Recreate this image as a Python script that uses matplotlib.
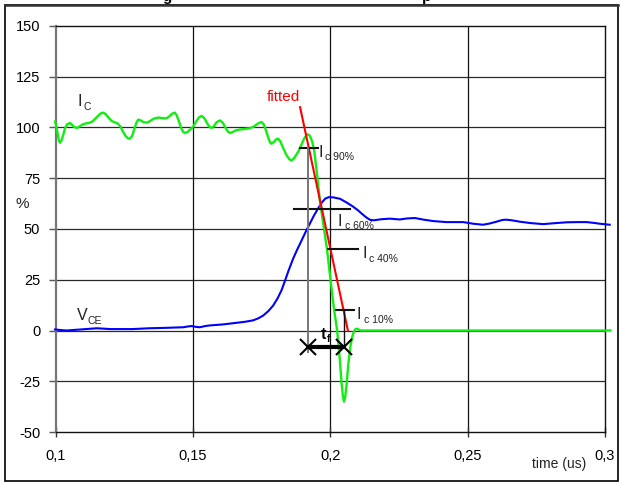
import matplotlib
matplotlib.use("Agg")
import matplotlib.pyplot as plt
from matplotlib.patches import Rectangle
from matplotlib.lines import Line2D

plt.rcParams['font.family'] = ['Liberation Sans', 'DejaVu Sans']
plt.rcParams['axes.unicode_minus'] = False

# Collector current I_C (%) versus time (us)
t_ic = [0.0998, 0.1003, 0.1008, 0.1012, 0.1016, 0.1021, 0.1027, 0.1034, 0.1042, 0.1052,
        0.1060, 0.1068, 0.1079, 0.1090, 0.1100, 0.1110, 0.1122, 0.1132, 0.1142, 0.1155,
        0.1165, 0.1174, 0.1183, 0.1193, 0.1204, 0.1215, 0.1226, 0.1236, 0.1245, 0.1255,
        0.1264, 0.1271, 0.1279, 0.1287, 0.1295, 0.1301, 0.1310, 0.1320, 0.1334, 0.1345,
        0.1358, 0.1374, 0.1390, 0.1404, 0.1414, 0.1424, 0.1434, 0.1441, 0.1449, 0.1457,
        0.1464, 0.1471, 0.1480, 0.1490, 0.1501, 0.1512, 0.1522, 0.1532, 0.1542, 0.1552,
        0.1561, 0.1568, 0.1576, 0.1586, 0.1598, 0.1608, 0.1618, 0.1627, 0.1635, 0.1645,
        0.1658, 0.1671, 0.1690, 0.1707, 0.1722, 0.1737, 0.1750, 0.1758, 0.1766, 0.1774,
        0.1781, 0.1786, 0.1794, 0.1803, 0.1810, 0.1818, 0.1828, 0.1840, 0.1851, 0.1859,
        0.1867, 0.1876, 0.1885, 0.1895, 0.1905, 0.1913, 0.1918, 0.1924, 0.1930, 0.1936,
        0.1942, 0.1950, 0.1962, 0.1975, 0.1988, 0.2000, 0.2012, 0.2025, 0.2035, 0.2041,
        0.2046, 0.2050, 0.2054, 0.2059, 0.2066, 0.2073, 0.2080, 0.2086, 0.2091, 0.2096,
        0.2103, 0.2110, 0.3020]
ic = [103.0, 100.5, 96.5, 93.5, 92.5, 93.5, 96.0, 99.5, 101.6, 102.2,
      101.3, 100.2, 99.8, 100.8, 101.6, 102.0, 102.3, 102.8, 104.0, 105.8,
      107.0, 107.3, 106.5, 104.8, 103.2, 102.6, 102.0, 100.5, 98.0, 95.8,
      94.6, 94.5, 96.0, 99.5, 102.6, 103.9, 103.5, 102.6, 102.4, 103.3,
      104.4, 104.9, 104.6, 104.5, 105.5, 106.8, 107.3, 106.0, 103.0, 99.8,
      97.9, 97.3, 97.8, 99.0, 100.5, 103.0, 105.0, 105.7, 104.5, 102.0,
      100.2, 99.8, 100.6, 102.6, 103.5, 102.5, 100.0, 98.0, 97.3, 97.8,
      98.7, 99.0, 99.3, 99.6, 100.5, 102.0, 102.7, 101.5, 98.5, 95.0,
      92.6, 92.0, 92.8, 94.2, 94.5, 93.2, 90.0, 86.5, 84.3, 83.8,
      84.6, 86.5, 88.5, 91.5, 94.6, 96.2, 96.6, 96.2, 94.6, 92.0,
      88.0, 79.0, 64.0, 52.0, 40.0, 26.0, 12.0, 0.0, -15.0, -26.0,
      -32.5, -35.0, -33.0, -27.0, -16.0, -8.0, -3.0, -0.5, 0.6, 0.9,
      0.5, 0.0, 0.0]

# Collector-emitter voltage V_CE (%) versus time (us)
t_vce = [0.0998, 0.1020, 0.1040, 0.1070, 0.1100, 0.1150, 0.1200, 0.1280, 0.1340, 0.1400,
         0.1465, 0.1482, 0.1495, 0.1510, 0.1525, 0.1545, 0.1562, 0.1610, 0.1647, 0.1690,
         0.1719, 0.1738, 0.1756, 0.1774, 0.1792, 0.1808, 0.1823, 0.1835, 0.1848, 0.1865,
         0.1880, 0.1896, 0.1910, 0.1925, 0.1940, 0.1955, 0.1970, 0.1982, 0.1995, 0.2010,
         0.2035, 0.2060, 0.2080, 0.2100, 0.2115, 0.2130, 0.2145, 0.2160, 0.2185, 0.2217,
         0.2253, 0.2280, 0.2308, 0.2340, 0.2375, 0.2423, 0.2484, 0.2520, 0.2556, 0.2580,
         0.2605, 0.2625, 0.2639, 0.2660, 0.2690, 0.2730, 0.2775, 0.2820, 0.2860, 0.2900,
         0.2933, 0.2960, 0.2981, 0.3017]
vce = [0.5, 0.2, 0.0, 0.3, 0.6, 1.1, 0.7, 0.7, 1.1, 1.3,
       1.6, 2.0, 2.2, 1.8, 1.6, 2.2, 2.5, 3.0, 3.6, 4.3,
       5.0, 6.0, 7.4, 9.5, 12.3, 15.8, 20.0, 24.5, 29.5, 35.5,
       40.0, 44.5, 48.5, 52.5, 56.5, 60.0, 63.2, 65.0, 65.7, 65.6,
       64.9, 63.0, 61.3, 59.3, 57.5, 55.8, 54.5, 54.3, 54.8, 55.1,
       54.7, 55.2, 55.4, 54.6, 53.9, 53.4, 53.4, 52.6, 52.1, 52.7,
       53.6, 54.4, 54.6, 54.3, 53.6, 52.9, 52.4, 52.9, 53.3, 53.4,
       53.4, 53.0, 52.6, 52.1]

# Straight line fitted through the falling edge of I_C
t_fit = [0.1890, 0.2064]
fit = [110.0, 0.0]

# Threshold markers: level %, bar start / end time, label subscript, label anchor
levels = [90, 60, 40, 10]
bar_start = [0.1890, 0.1867, 0.1991, 0.2020]
bar_end = [0.1955, 0.2071, 0.2101, 0.2086]
level_names = ['c 90%', 'c 60%', 'c 40%', 'c 10%']
label_t = [0.1956, 0.2027, 0.2116, 0.2096]
label_v = [85.5, 51.5, 35.5, 5.5]

# Fall time t_f between the 90% and 10% crossings
tf_start = 0.1919
tf_end = 0.2050
tf_level = -8.0

x_ticks = [0.1, 0.15, 0.2, 0.25, 0.3]
x_labels = ['0,1', '0,15', '0,2', '0,25', '0,3']
y_ticks = [-50, -25, 0, 25, 50, 75, 100, 125, 150]

W, H = 622, 482
fig = plt.figure(figsize=(W / 100, H / 100), dpi=100)
ax = fig.add_axes([55.6 / W, 1 - 432 / H, (605 - 55.6) / W, (432 - 26) / H])

ax.set_xlim(0.1, 0.3)
ax.set_ylim(-50, 150)
ax.set_xticks(x_ticks)
ax.set_xticklabels(x_labels)
ax.set_yticks(y_ticks)
ax.tick_params(axis='x', direction='inout', length=7, width=1, pad=9, labelsize=10.5, color='#333333')
ax.tick_params(axis='y', direction='out', length=5, width=1, pad=6, labelsize=10.5, color='#555555')

for v in y_ticks[1:-1]:
    ax.axhline(v, color='#2a2a2a', lw=0.9, zorder=1)
for t in x_ticks[1:-1]:
    ax.axvline(t, color='#111111', lw=0.9, zorder=1)

for side in ['top', 'right', 'bottom']:
    ax.spines[side].set_color('#111111')
    ax.spines[side].set_linewidth(1.0)
ax.spines['left'].set_color('#777777')
ax.spines['left'].set_linewidth(1.6)

ax.plot(t_vce, vce, color='#0000ff', lw=1.5, clip_on=False, zorder=3, solid_joinstyle='round')
ax.plot(t_ic, ic, color='#11ee11', lw=1.7, clip_on=False, zorder=4, solid_joinstyle='round')
ax.plot(t_fit, fit, color='#ff0000', lw=1.5, zorder=5)

# Threshold bars and their labels
for lv, a, b, name, lt, lvy in zip(levels, bar_start, bar_end, level_names, label_t, label_v):
    ax.plot([a, b], [lv, lv], color='#111111', lw=1.5, zorder=6)
    ax.text(lt, lvy, 'I', fontsize=11.5, color='#222222', va='baseline', ha='left', zorder=7)
    ax.annotate(name, xy=(lt, lvy), xytext=(5, -2.5), textcoords='offset points',
                fontsize=7.5, color='#222222', va='baseline', ha='left', zorder=7)

# Vertical guides down to the t_f arrow
ax.plot([tf_start, tf_start], [90, tf_level - 2.5], color='#777777', lw=1.4, zorder=6)
ax.plot([tf_end, tf_end], [10, tf_level], color='#111111', lw=1.0, zorder=6)
ax.plot([tf_start, tf_end], [tf_level, tf_level], color='black', lw=3, zorder=7,
        solid_capstyle='butt')
ax.plot([tf_start, tf_end], [tf_level, tf_level], linestyle='none', marker='x',
        markersize=11, mew=1.5, color='black', zorder=8)
ax.text(0.1966, -4.0, 't', fontsize=11.5, fontweight='bold', va='baseline', ha='left', zorder=8)
ax.annotate('f', xy=(0.1966, -4.0), xytext=(4, -2.5), textcoords='offset points',
            fontsize=7.5, fontweight='bold', va='baseline', ha='left', zorder=8)

# Curve labels
ax.text(0.1079, 110.5, 'I', fontsize=11.5, color='#222222', va='baseline', ha='left')
ax.annotate('C', xy=(0.1079, 110.5), xytext=(4.5, -2.5), textcoords='offset points',
            fontsize=7.5, color='#222222', va='baseline', ha='left')
ax.text(0.1078, 5.0, 'V', fontsize=11.5, color='#222222', va='baseline', ha='left')
ax.annotate('CE', xy=(0.1078, 5.0), xytext=(7.6, -2.5), textcoords='offset points',
            fontsize=7.5, color='#222222', va='baseline', ha='left')
ax.text(0.1768, 113.0, 'fitted', fontsize=11, color='#ff0000', va='baseline', ha='left')

fig.text(22 / W, 1 - 204 / H, '%', fontsize=11, ha='center', va='center', color='#222222')
fig.text(559 / W, 1 - 464 / H, 'time (us)', fontsize=10, ha='center', va='center', color='#222222')

# Descenders of the bold heading that runs above the frame
fig.text(167 / W, 1 - 0.5 / H, 'g', fontsize=11, fontweight='bold', ha='center', va='baseline')
fig.text(427 / W, 1 - 0.5 / H, 'p', fontsize=11, fontweight='bold', ha='center', va='baseline')

# Outer frame
fig.patches.append(Rectangle((4.5 / W, 1.5 / H), (618 - 4.5) / W, (477.5 - 1.5) / H,
                             transform=fig.transFigure, fill=False, edgecolor='black', lw=1.2))
fig.add_artist(Line2D([4.5 / W, 618 / W], [1 - 4.5 / H, 1 - 4.5 / H], transform=fig.transFigure,
                      color='#333333', lw=1.8))

fig.savefig('out.png', dpi=100)
